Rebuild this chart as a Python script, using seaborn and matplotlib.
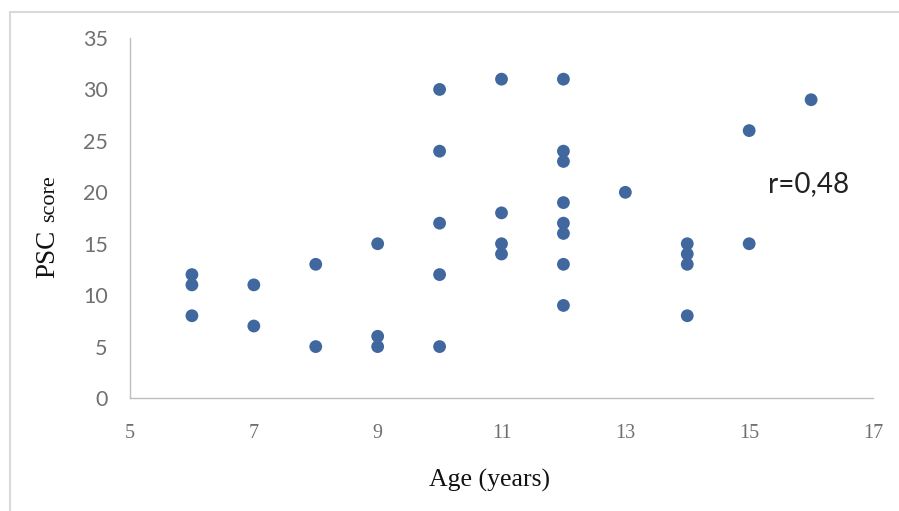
import matplotlib
matplotlib.use("Agg")
import matplotlib.pyplot as plt
import seaborn as sns
import pandas as pd
from matplotlib.patches import Rectangle

ages = [6, 6, 6, 7, 7, 8, 8, 9, 9, 9,
        10, 10, 10, 10, 10,
        11, 11, 11, 11,
        12, 12, 12, 12, 12, 12, 12, 12,
        13,
        14, 14, 14, 14,
        15, 15, 16]
psc = [12, 11, 8, 11, 7, 13, 5, 15, 6, 5,
       30, 24, 17, 12, 5,
       31, 18, 15, 14,
       31, 24, 23, 19, 17, 16, 13, 9,
       20,
       15, 14, 13, 8,
       26, 15, 29]
x_ticks = [5, 7, 9, 11, 13, 15, 17]
y_ticks = [0, 5, 10, 15, 20, 25, 30, 35]
annotation = "r=0,48"

df = pd.DataFrame({"Age": ages, "PSC": psc})

sns.set_theme(style="white")
fig = plt.figure(figsize=(8.99, 5.11), dpi=100)
ax = fig.add_axes([0.1446, 0.2211, 0.8265, 0.7045])

sns.scatterplot(data=df, x="Age", y="PSC", ax=ax, color="#41689E",
                s=85, edgecolor="none", linewidth=0)

ax.set_xlim(5, 17)
ax.set_ylim(0, 35)
ax.set_xticks(x_ticks)
ax.set_yticks(y_ticks)
ax.set_xticklabels([str(t) for t in x_ticks], fontfamily="Liberation Serif",
                   fontsize=14.5, color="#707070")
ax.set_yticklabels([str(t) for t in y_ticks], fontfamily="Lato",
                   fontsize=15.5, color="#707070")
ax.tick_params(axis="x", length=0, pad=19)
ax.tick_params(axis="y", length=0, pad=16)

for s in ["top", "right"]:
    ax.spines[s].set_visible(False)
for s in ["left", "bottom"]:
    ax.spines[s].set_color("#BFBFBF")
    ax.spines[s].set_linewidth(1.0)

ax.set_xlabel("Age (years)", fontfamily="Liberation Serif", fontsize=18.5,
              color="#111111", va="center")
ax.xaxis.set_label_coords(0.4845, -0.228)
ax.set_ylabel("")

# y-axis title: "PSC" larger than "score", sharing one baseline
base_x = -0.1015
ax.text(base_x, 0.40, "PSC", transform=ax.transAxes, rotation=90,
        rotation_mode="anchor", ha="center", va="baseline",
        fontfamily="Liberation Serif", fontsize=19.5, color="#111111")
ax.text(base_x, 0.555, "score", transform=ax.transAxes, rotation=90,
        rotation_mode="anchor", ha="center", va="baseline",
        fontfamily="Liberation Serif", fontsize=16, color="#111111")

ax.text(15.3, 20.8, annotation, fontfamily="Lato", fontsize=20,
        color="#222222", va="center", ha="left")

# outer light border
fig.patches.append(Rectangle((10 / 899, -0.01), 1.0, 1 - 12 / 511 + 0.01,
                             transform=fig.transFigure, fill=False,
                             edgecolor="#D9D9D9", linewidth=1.5))

fig.savefig("out.png", dpi=100)
